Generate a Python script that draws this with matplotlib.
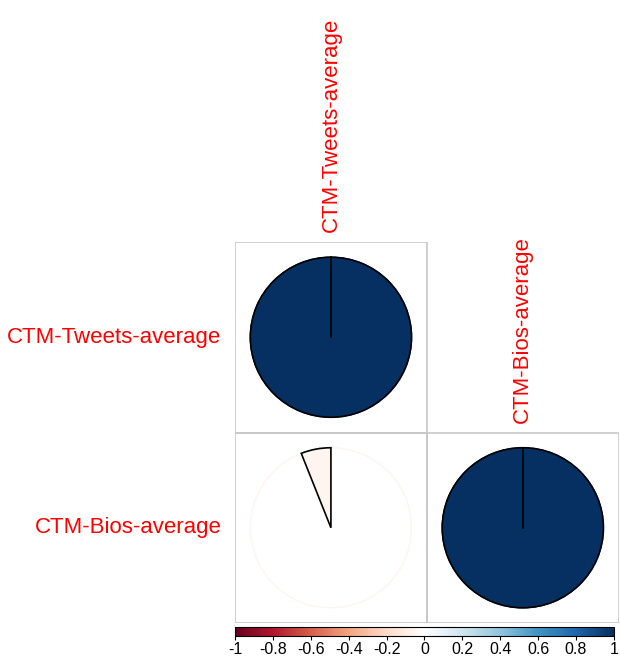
import numpy as np
import matplotlib.pyplot as plt
from matplotlib.colors import LinearSegmentedColormap, Normalize
from matplotlib.patches import Wedge, Circle, Rectangle
import matplotlib.colorbar as mcolorbar

plt.rcParams['font.family'] = ['Liberation Sans', 'DejaVu Sans']

# correlation matrix (lower triangle is drawn)
labels = ["CTM-Tweets-average", "CTM-Bios-average"]
corr = np.array([[1.0, -0.06],
                 [-0.06, 1.0]])
bar_ticks = [-1, -0.8, -0.6, -0.4, -0.2, 0, 0.2, 0.4, 0.6, 0.8, 1]

# RdBu palette as used by corrplot
rdbu = ["#67001F", "#B2182B", "#D6604D", "#F4A582", "#FDDBC7", "#FFFFFF",
        "#D1E5F0", "#92C5DE", "#4393C3", "#2166AC", "#053061"]
cmap = LinearSegmentedColormap.from_list("rdbu", rdbu, N=200)
norm = Normalize(-1, 1)

fig = plt.figure(figsize=(6.2, 6.59), dpi=100)
ax = fig.add_axes([0.379, 0.0546, 0.619, 0.5782])
ax.set_xlim(0, 2)
ax.set_ylim(0, 2)
ax.axis("off")

n = len(labels)
r = 0.42
for i in range(n):
    for j in range(n):
        if j > i:
            continue
        cx = j + 0.5
        cy = n - i - 0.5
        v = corr[i, j]
        col = cmap(norm(v))
        ax.add_patch(Rectangle((j, n - i - 1), 1, 1, fill=False,
                               edgecolor="#c8c8c8", linewidth=1.2))
        ax.add_patch(Circle((cx, cy), r, facecolor="white", edgecolor=col,
                            linewidth=1))
        ang = 360 * abs(v)
        if v >= 0:
            t1, t2 = 90 - ang, 90
        else:
            t1, t2 = 90, 90 + ang
        ax.add_patch(Wedge((cx, cy), r, t1, t2, facecolor=col,
                           edgecolor="black", linewidth=1.2))
        if ang >= 360:
            # full pie: keep the radial edge at 12 o'clock
            ax.plot([cx, cx], [cy, cy + r], color="black", linewidth=1.2)

# row labels on the left, column labels along the diagonal
for i, lab in enumerate(labels):
    ax.text(-0.07, n - i - 0.5, lab, ha="right", va="center",
            color="red", fontsize=16)
    ax.text(i + 0.5, n - i + 0.05, lab, ha="center", va="bottom",
            rotation=90, color="red", fontsize=16)

# colour legend underneath
cax = fig.add_axes([0.379, 0.0349, 0.611, 0.0137])
cb = mcolorbar.ColorbarBase(cax, cmap=cmap, norm=norm,
                            orientation="horizontal", ticks=bar_ticks)
cb.ax.set_xticklabels([f"{t:g}" for t in bar_ticks])
cb.ax.tick_params(labelsize=11.5, length=3, pad=1)
cb.outline.set_linewidth(0.8)

fig.savefig("out.png", dpi=100)
